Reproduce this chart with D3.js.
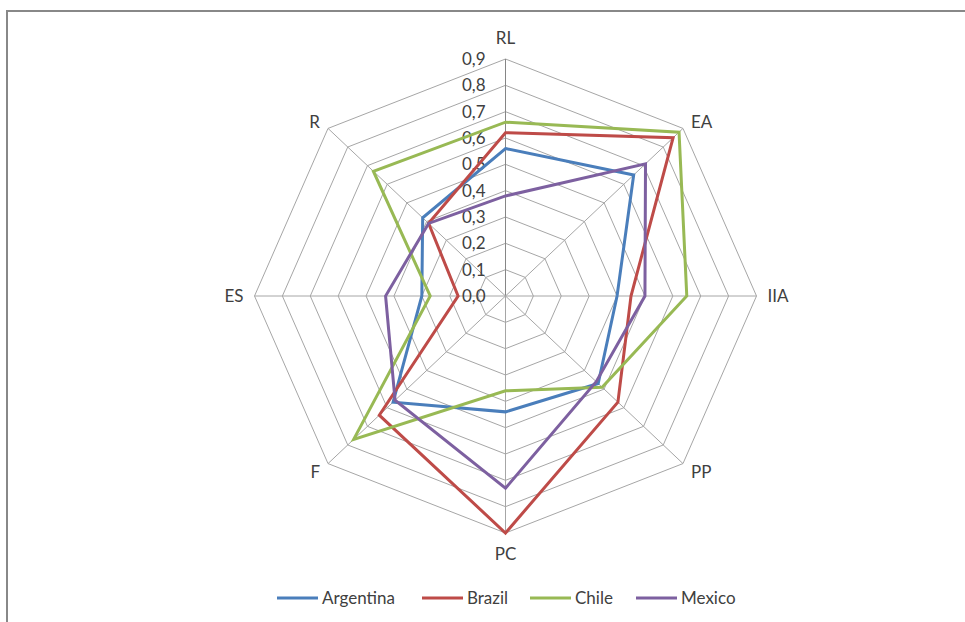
<!DOCTYPE html>
<html lang="en">
<head>
    <meta charset="UTF-8">
    <title>Radar chart</title>
    <script src="https://cdnjs.cloudflare.com/ajax/libs/d3/7.8.5/d3.min.js"></script>
    <style>
        body {
            margin: 0;
            padding: 0;
            background-color: #fff;
        }
        svg text {
            font-family: Lato, "Noto Sans", sans-serif;
            font-size: 17px;
            fill: #404040;
        }
        .grid {
            fill: none;
            stroke: #a6a6a6;
            stroke-width: 1px;
        }
        .series {
            fill: none;
            stroke-width: 3px;
            stroke-linejoin: miter;
        }
    </style>
</head>
<body>
    <div id="chart"></div>
    <script>
        // axes, clockwise from the top
        const axes = ["RL", "EA", "IIA", "PP", "PC", "F", "ES", "R"];
        const ticks = [0, 0.1, 0.2, 0.3, 0.4, 0.5, 0.6, 0.7, 0.8, 0.9];
        const tickLabels = ["0,0", "0,1", "0,2", "0,3", "0,4", "0,5", "0,6", "0,7", "0,8", "0,9"];

        const countries = ["Argentina", "Brazil", "Chile", "Mexico"];
        const colors = ["#4a7ebb", "#be4b48", "#98b954", "#7d60a0"];

        const argentina = [0.56, 0.65, 0.40, 0.47, 0.44, 0.57, 0.30, 0.42];
        const brazil    = [0.62, 0.85, 0.45, 0.57, 0.90, 0.64, 0.17, 0.39];
        const chile     = [0.66, 0.88, 0.65, 0.49, 0.36, 0.77, 0.27, 0.67];
        const mexico    = [0.38, 0.71, 0.50, 0.46, 0.73, 0.56, 0.43, 0.39];

        const series = [argentina, brazil, chile, mexico];

        const width = 965, height = 622;
        const cx = 505.5, cy = 296;

        const svg = d3.select("#chart").append("svg")
            .attr("width", width)
            .attr("height", height);

        // chart frame (runs off the right and bottom edges)
        svg.append("rect")
            .attr("x", 7).attr("y", 11)
            .attr("width", 1000).attr("height", 700)
            .attr("fill", "none")
            .attr("stroke", "#888")
            .attr("stroke-width", 2);

        // the plot is a little wider than tall
        const rx = d3.scaleLinear().domain([0, 0.9]).range([0, 251]);
        const ry = d3.scaleLinear().domain([0, 0.9]).range([0, 237]);

        const angle = i => i * 2 * Math.PI / axes.length;
        const px = (v, i) => cx + rx(v) * Math.sin(angle(i));
        const py = (v, i) => cy - ry(v) * Math.cos(angle(i));

        const ring = d3.line()
            .x(d => px(d.v, d.i))
            .y(d => py(d.v, d.i))
            .curve(d3.curveLinearClosed);

        // grid octagons
        svg.selectAll(".ring")
            .data(ticks.slice(1))
            .enter().append("path")
            .attr("class", "grid")
            .attr("d", t => ring(axes.map((a, i) => ({ v: t, i: i }))));

        // spokes
        svg.selectAll(".spoke")
            .data(axes)
            .enter().append("line")
            .attr("class", "grid")
            .attr("x1", cx).attr("y1", cy)
            .attr("x2", (a, i) => px(0.9, i))
            .attr("y2", (a, i) => py(0.9, i))
            .style("stroke", (a, i) => i === 0 ? "#868686" : null);

        // value labels along the RL axis
        svg.selectAll(".tick")
            .data(ticks)
            .enter().append("text")
            .attr("x", cx - 20)
            .attr("y", t => cy - ry(t))
            .attr("dy", "0.35em")
            .attr("text-anchor", "end")
            .text((t, i) => tickLabels[i]);

        // axis names
        svg.selectAll(".axis-label")
            .data(axes)
            .enter().append("text")
            .attr("x", (a, i) => {
                const s = Math.sin(angle(i));
                if (Math.abs(s) < 0.01) return px(0.9, i);
                if (Math.abs(s) > 0.99) return px(0.9, i) + (s > 0 ? 11 : -11);
                return px(0.9, i) + (s > 0 ? 8 : -8);
            })
            .attr("y", (a, i) => {
                const c = Math.cos(angle(i));
                if (Math.abs(c) > 0.99) return py(0.9, i) - 21 * c;
                if (Math.abs(c) < 0.01) return py(0.9, i);
                return py(0.9, i) + (c > 0 ? -6 : 8);
            })
            .attr("dy", "0.35em")
            .attr("text-anchor", (a, i) => {
                const s = Math.sin(angle(i));
                if (Math.abs(s) < 0.01) return "middle";
                return s > 0 ? "start" : "end";
            })
            .text(a => a);

        // series polygons
        svg.selectAll(".series")
            .data(series)
            .enter().append("path")
            .attr("class", "series")
            .attr("stroke", (d, k) => colors[k])
            .attr("d", d => ring(d.map((v, i) => ({ v: v, i: i }))));

        // legend
        const legendX = [277, 422, 530, 636];
        const legend = svg.selectAll(".legend")
            .data(countries)
            .enter().append("g")
            .attr("transform", (c, k) => `translate(${legendX[k]},598)`);

        legend.append("line")
            .attr("x1", 0).attr("x2", 41)
            .attr("stroke", (c, k) => colors[k])
            .attr("stroke-width", 3);

        legend.append("text")
            .attr("x", 45)
            .attr("dy", "0.35em")
            .text(c => c);
    </script>
</body>
</html>
